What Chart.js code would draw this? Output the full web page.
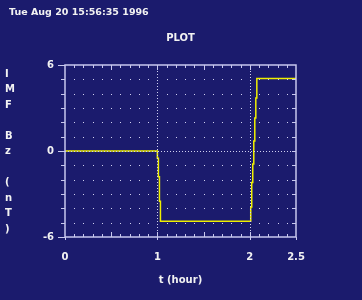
<!DOCTYPE html>
<html><head><meta charset="utf-8">
<script src="https://cdn.jsdelivr.net/npm/chart.js@4/dist/chart.umd.min.js"></script>
<style>html,body{margin:0;padding:0;background:#1b1b6d;overflow:hidden}#w{width:362px;height:300px;position:relative}</style>
</head><body><div id="w"><canvas id="c"></canvas></div>
<script>
// ---- data ----
const dateText = 'Tue Aug 20 15:56:35 1996';
const plotTitle = 'PLOT';
const yLabelLines = ['I','M','F','','B','z','','(','n','T',')'];
const xTitle = 't (hour)';
const xTickValues = [0, 1, 2, 2.5];
const yTickValues = [-6, 0, 6];
const timeHours = [0, 1.0, 1.011, 1.022, 1.033, 2.01, 2.021, 2.032, 2.043, 2.054, 2.065, 2.076, 2.5];
const bzValues  = [0, -0.5, -1.8, -3.5, -4.9, -3.9, -2.2, -0.9, 0.7, 2.3, 3.7, 5.05, 5.05];

const BG = '#1b1b6d', FG = '#f2f2f2', FRAME = '#c8c8ee', DOT = '#d0d0f0';
const FONT = "'DejaVu Sans'";

const deco = {
  id: 'deco',
  beforeDraw(chart) {
    const ctx = chart.ctx;
    ctx.save();
    ctx.fillStyle = BG;
    ctx.fillRect(0, 0, chart.width, chart.height);
    ctx.restore();
  },
  afterDatasetsDraw(chart) {
    const ctx = chart.ctx, xs = chart.scales.x, ys = chart.scales.y, a = chart.chartArea;
    ctx.save();
    ctx.fillStyle = DOT;
    for (let i = 1; i < 25; i++) {
      if (i === 10 || i === 20) continue;
      const px = Math.round(xs.getPixelForValue(i / 10));
      for (let j = -5; j <= 5; j++) {
        if (j === 0) continue;
        const py = Math.round(ys.getPixelForValue(j));
        ctx.fillRect(px, py, 1, 1);
      }
    }
    ctx.strokeStyle = DOT; ctx.lineWidth = 1; ctx.setLineDash([1, 2]);
    const y0 = Math.round(ys.getPixelForValue(0)) + 0.5;
    ctx.beginPath(); ctx.moveTo(a.left, y0); ctx.lineTo(a.right, y0); ctx.stroke();
    [1, 2].forEach(v => {
      const px = Math.round(xs.getPixelForValue(v)) + 0.5;
      ctx.beginPath(); ctx.moveTo(px, a.top); ctx.lineTo(px, a.bottom); ctx.stroke();
    });
    ctx.setLineDash([]);
    ctx.strokeStyle = FRAME; ctx.lineWidth = 1.5;
    ctx.strokeRect(a.left, a.top, a.right - a.left, a.bottom - a.top);
    ctx.lineWidth = 1;
    for (let i = 1; i < 25; i++) {
      const v = i / 10;
      const px = Math.round(xs.getPixelForValue(v)) + 0.5;
      const major = (i % 5 === 0);
      const len = major ? 5 : 3;
      ctx.beginPath();
      ctx.moveTo(px, a.top); ctx.lineTo(px, a.top + len);
      ctx.moveTo(px, a.bottom); ctx.lineTo(px, a.bottom - len);
      ctx.stroke();
    }
    for (let j = -6; j <= 6; j++) {
      const py = Math.round(ys.getPixelForValue(j)) + 0.5;
      const lab = (j % 6 === 0);
      ctx.beginPath();
      ctx.moveTo(a.left, py); ctx.lineTo(a.left - (lab ? 7 : 4), py);
      if (j > -6 && j < 6) { ctx.moveTo(a.right, py); ctx.lineTo(a.right - 4, py); }
      ctx.stroke();
    }
    xTickValues.forEach(v => {
      const px = Math.round(xs.getPixelForValue(v)) + 0.5;
      ctx.beginPath(); ctx.moveTo(px, a.bottom); ctx.lineTo(px, a.bottom + 3); ctx.stroke();
    });
    ctx.restore();
  },
  afterDraw(chart) {
    const ctx = chart.ctx, a = chart.chartArea;
    ctx.save();
    ctx.fillStyle = FG;
    ctx.textBaseline = 'alphabetic';
    ctx.font = "bold 9.5px " + FONT;
    ctx.textAlign = 'left';
    ctx.fillText(dateText, 9, 15);
    ctx.font = "bold 10px " + FONT;
    ctx.textAlign = 'center';
    ctx.fillText(plotTitle, (a.left + a.right) / 2, 41);
    ctx.textAlign = 'left';
    ctx.textBaseline = 'middle';
    yLabelLines.forEach((t, k) => { if (t) ctx.fillText(t, 5, 74 + k * 15.5); });
    ctx.restore();
  }
};

new Chart(document.getElementById('c'), {
  type: 'line',
  data: {
    datasets: [{
      data: timeHours.map((t, i) => ({ x: t, y: bzValues[i] })),
      borderColor: '#f0f000',
      borderWidth: 1.5,
      pointRadius: 0,
      stepped: true,
      fill: false
    }]
  },
  options: {
    responsive: true,
    maintainAspectRatio: false,
    animation: false,
    layout: { padding: { left: 0, right: 66, top: 65, bottom: 0 } },
    plugins: { legend: { display: false }, tooltip: { enabled: false } },
    scales: {
      x: {
        type: 'linear', min: 0, max: 2.5,
        afterBuildTicks: s => { s.ticks = xTickValues.map(v => ({ value: v })); },
        afterFit: s => { s.height = 63; },
        grid: { display: false, drawTicks: false },
        border: { display: false },
        ticks: { color: FG, font: { family: FONT, size: 10, weight: 'bold' }, padding: 14, maxRotation: 0, autoSkip: false,
                 callback: v => String(v) },
        title: { display: true, text: xTitle, color: FG, font: { family: FONT, size: 10, weight: 'bold' }, padding: { top: 0, bottom: 14 } }
      },
      y: {
        type: 'linear', min: -6, max: 6,
        afterBuildTicks: s => { s.ticks = yTickValues.map(v => ({ value: v })); },
        afterFit: s => { s.width = 65; },
        grid: { display: false, drawTicks: false },
        border: { display: false },
        ticks: { color: FG, font: { family: FONT, size: 10, weight: 'bold' }, padding: 11, autoSkip: false,
                 callback: v => String(v) }
      }
    }
  },
  plugins: [deco]
});
</script>
</body></html>
